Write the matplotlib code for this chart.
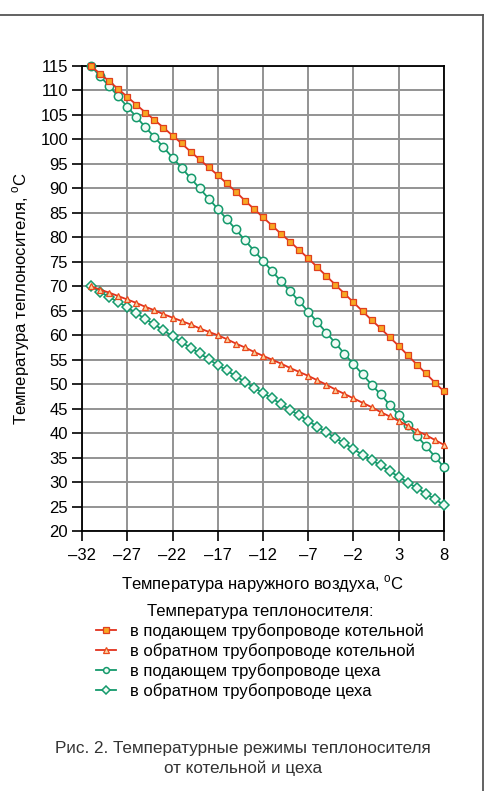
import matplotlib
matplotlib.use("Agg")
import matplotlib.pyplot as plt
from matplotlib.lines import Line2D

plt.rcParams['font.family'] = ['Liberation Sans', 'DejaVu Sans']

# outdoor temperature, °C
outdoor_t = list(range(-31, 9))

supply_boiler = [115.0, 113.4, 111.9, 110.3, 108.7, 107.1, 105.5, 104.0, 102.4, 100.8,
                 99.2, 97.5, 95.9, 94.3, 92.7, 91.0, 89.3, 87.5, 85.8, 84.1,
                 82.4, 80.7, 79.1, 77.4, 75.7, 73.9, 72.1, 70.3, 68.5, 66.7,
                 64.9, 63.1, 61.4, 59.6, 57.8, 55.9, 54.0, 52.2, 50.3, 48.5]
return_boiler = [70.0, 69.3, 68.7, 68.0, 67.3, 66.6, 65.8, 65.1, 64.3, 63.6,
                 62.9, 62.2, 61.4, 60.7, 60.0, 59.2, 58.3, 57.5, 56.6, 55.8,
                 55.0, 54.2, 53.3, 52.5, 51.7, 50.8, 49.9, 48.9, 48.0, 47.1,
                 46.2, 45.3, 44.3, 43.4, 42.5, 41.5, 40.5, 39.6, 38.6, 37.6]
supply_shop = [115.0, 112.9, 110.9, 108.8, 106.7, 104.6, 102.5, 100.5, 98.4, 96.3,
               94.2, 92.1, 90.0, 87.9, 85.8, 83.7, 81.6, 79.4, 77.3, 75.2,
               73.1, 71.0, 69.0, 66.9, 64.8, 62.7, 60.5, 58.4, 56.2, 54.1,
               52.0, 49.9, 47.9, 45.8, 43.7, 41.6, 39.5, 37.3, 35.2, 33.0]
return_shop = [70.0, 68.9, 67.8, 66.8, 65.7, 64.5, 63.3, 62.2, 61.0, 59.8,
               58.6, 57.4, 56.3, 55.1, 53.9, 52.8, 51.6, 50.5, 49.3, 48.2,
               47.1, 45.9, 44.8, 43.6, 42.5, 41.3, 40.2, 39.0, 37.9, 36.7,
               35.6, 34.5, 33.4, 32.2, 31.1, 29.9, 28.8, 27.6, 26.5, 25.3]

labels = ["в подающем трубопроводе котельной",
          "в обратном трубопроводе котельной",
          "в подающем трубопроводе цеха",
          "в обратном трубопроводе цеха"]

x_ticks = [-32, -27, -22, -17, -12, -7, -2, 3, 8]
y_ticks = list(range(20, 116, 5))

W, H = 492, 791
fig = plt.figure(figsize=(W / 100, H / 100), dpi=100)
ax = fig.add_axes([82 / W, 1 - 531 / H, (444 - 82) / W, (531 - 66) / H])

red = '#e2321e'
green = '#159a6c'

ax.plot(outdoor_t, supply_boiler, color=red, lw=1.3, marker='s', ms=4.4,
        mfc='#f7a823', mec='#e0401e', mew=0.9, label=labels[0], zorder=4, clip_on=False)
ax.plot(outdoor_t, return_boiler, color=red, lw=1.3, marker='^', ms=4.8,
        mfc='#fbd3a0', mec='#ea4a1c', mew=0.9, label=labels[1], zorder=4, clip_on=False)
ax.plot(outdoor_t, supply_shop, color=green, lw=1.3, marker='o', ms=6.0,
        mfc='#f2fbf6', mec=green, mew=1.1, label=labels[2], zorder=3, clip_on=False)
ax.plot(outdoor_t, return_shop, color=green, lw=1.3, marker='D', ms=4.8,
        mfc='#f2fbf6', mec=green, mew=1.1, label=labels[3], zorder=3, clip_on=False)

ax.set_xlim(-32, 8)
ax.set_ylim(20, 115)
ax.set_xticks(x_ticks)
ax.set_yticks(y_ticks)
ax.set_xticklabels([str(v).replace('-', '\u2013') for v in x_ticks])
ax.grid(True, color='#939393', lw=1.4)
ax.set_axisbelow(True)
for s in ax.spines.values():
    s.set_color('black')
    s.set_linewidth(1.3)
ax.tick_params(axis='both', direction='out', length=7, width=1.2, colors='black',
               labelsize=12, pad=3)
ax.tick_params(axis='x', pad=5)

ax.set_xlabel("Температура наружного воздуха, $^\\mathregular{o}$С", fontsize=12,
              labelpad=8)
ax.set_ylabel("Температура теплоносителя, $^\\mathregular{o}$С", fontsize=12,
              labelpad=6)

leg = fig.legend(loc='upper center', bbox_to_anchor=(260 / W, 1 - 596 / H),
                 frameon=False, fontsize=12, title="Температура теплоносителя:",
                 title_fontsize=12, handlelength=1.2, handletextpad=0.8,
                 labelspacing=0.24, borderpad=0)
leg._legend_box.align = "center"
for h in leg.legend_handles:
    h.set_markersize(4.2)

fig.text(243 / W, 1 - 748 / H, "Рис. 2. Температурные режимы теплоносителя",
         ha='center', va='center', fontsize=12.3, color='#333333')
fig.text(243 / W, 1 - 768 / H, "от котельной и цеха",
         ha='center', va='center', fontsize=12.3, color='#333333')

# frame lines
fig.add_artist(Line2D([0, 483 / W], [1 - 15 / H, 1 - 15 / H], transform=fig.transFigure,
                      color='#555555', lw=1.3))
fig.add_artist(Line2D([483 / W, 483 / W], [1 - 15 / H, 0], transform=fig.transFigure,
                      color='#555555', lw=1.3))

fig.savefig("out.png", dpi=100)
